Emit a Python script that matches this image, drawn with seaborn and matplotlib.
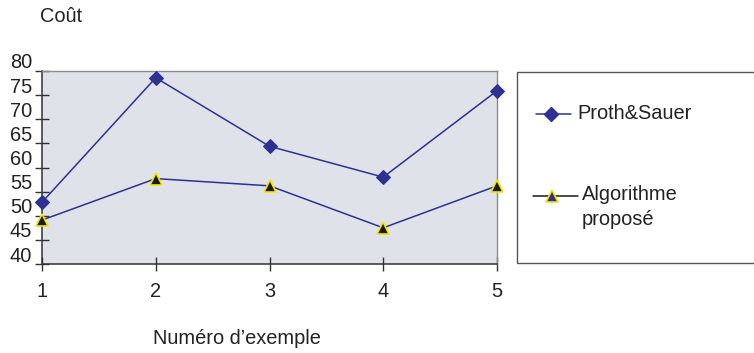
import matplotlib
matplotlib.use("Agg")
import matplotlib.pyplot as plt
import matplotlib.transforms as mtransforms
from matplotlib.lines import Line2D
from matplotlib.patches import Rectangle
import seaborn as sns
import pandas as pd

examples = [1, 2, 3, 4, 5]
proth_sauer = [52.8, 78.6, 64.4, 58.0, 75.9]
algorithme = [49.1, 57.7, 56.2, 47.5, 56.2]
series_names = ["Proth&Sauer", "Algorithme\nproposé"]
y_ticks = [40, 45, 50, 55, 60, 65, 70, 75, 80]

sns.set_theme(style="white")
plt.rcParams["font.family"] = ["Liberation Sans", "DejaVu Sans"]

FS = 14.4
TXT = "#222222"
W, H = 754, 353
fig = plt.figure(figsize=(W / 100, H / 100), dpi=100)
ax = fig.add_axes([42 / W, 1 - 264 / H, (497 - 42) / W, (264 - 71) / H])
ax.set_facecolor("#dfe2e8")

blue = "#2e3192"
sns.lineplot(x=examples, y=proth_sauer, ax=ax, color=blue, lw=1.1,
             marker="D", markersize=7.5, markeredgecolor=blue, markerfacecolor=blue,
             clip_on=False, zorder=5)
sns.lineplot(x=examples, y=algorithme, ax=ax, color=blue, lw=1.1,
             marker="^", markersize=9, markeredgecolor="#f2e600", markeredgewidth=1.2,
             markerfacecolor="#1a1a1a", clip_on=False, zorder=5)

ax.set_xlim(1, 5)
ax.set_ylim(40, 80)
ax.set_xticks(examples)
ax.set_xticklabels([str(v) for v in examples], fontsize=FS, color=TXT)
ax.set_yticks(y_ticks)
ax.set_yticklabels([str(v) for v in y_ticks], fontsize=FS, color=TXT)
ax.tick_params(axis="both", direction="inout", length=10, width=1, color="#333333")
ax.tick_params(axis="x", pad=8)
ax.tick_params(axis="y", pad=2)
ax.xaxis.set_ticks_position("bottom")
ax.yaxis.set_ticks_position("left")
off = mtransforms.ScaledTranslation(0, 10 / 100, fig.dpi_scale_trans)
for lab in ax.get_yticklabels():
    lab.set_transform(lab.get_transform() + off)
for side in ["left", "bottom"]:
    ax.spines[side].set_color("#333333")
    ax.spines[side].set_linewidth(1.1)
for side in ["top", "right"]:
    ax.spines[side].set_color("#8c8c8c")
    ax.spines[side].set_linewidth(1.0)
ax.set_xlabel("")
ax.set_ylabel("")

# titles
fig.text(61 / W, 1 - 16 / H, "Coût", fontsize=FS, ha="center", va="center", color=TXT)
fig.text(153 / W, 1 - 339 / H, "Numéro d’exemple", fontsize=FS, ha="left", va="center", color=TXT)

# legend box
fig.add_artist(Rectangle((517 / W, 1 - 263 / H), 300 / W, (263 - 72) / H,
                         transform=fig.transFigure, facecolor="white",
                         edgecolor="#555555", lw=1.0))
fig.add_artist(Line2D([536 / W, 571 / W], [1 - 114 / H, 1 - 114 / H], transform=fig.transFigure,
                      color=blue, lw=1.1))
fig.add_artist(Line2D([551 / W], [1 - 114 / H], transform=fig.transFigure, ls="none",
                      marker="D", markersize=7.5, color=blue))
fig.text(577 / W, 1 - 114 / H, series_names[0], fontsize=FS, ha="left", va="center", color=TXT)
fig.add_artist(Line2D([533 / W, 578 / W], [1 - 196 / H, 1 - 196 / H], transform=fig.transFigure,
                      color="#1a1a1a", lw=1.1))
fig.add_artist(Line2D([552 / W], [1 - 196 / H], transform=fig.transFigure, ls="none",
                      marker="^", markersize=8, markeredgecolor="#f2e600", markeredgewidth=1.2,
                      markerfacecolor=blue))
fig.text(582 / W, 1 - 185 / H, series_names[1], fontsize=FS, ha="left", va="top",
         color=TXT, linespacing=1.4)

fig.savefig("out.png", dpi=100)
